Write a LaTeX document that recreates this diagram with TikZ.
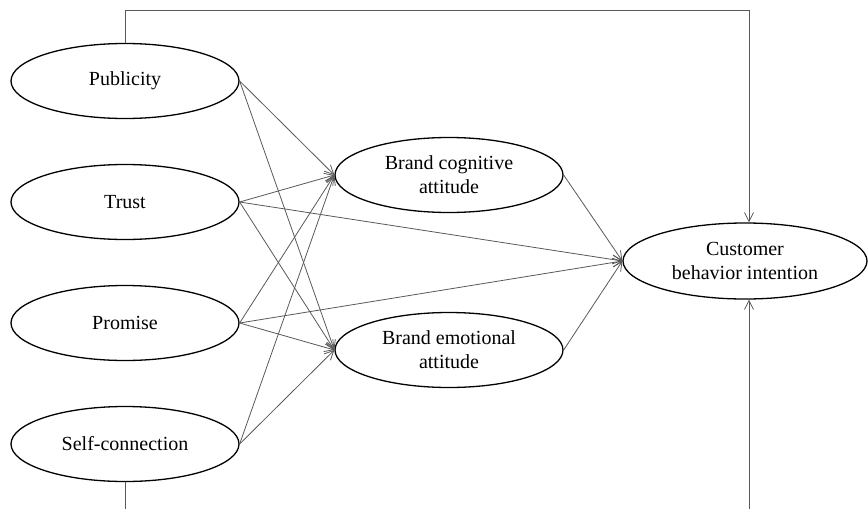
\documentclass[tikz,border=0pt]{standalone}
\usepackage{fontspec}
\setmainfont{Liberation Serif}
\usetikzlibrary{shapes.geometric,arrows.meta}
\begin{document}
\begin{tikzpicture}[x=1pt,y=-1pt,
  latent/.style={draw=black,line width=1.3pt,ellipse,inner sep=0pt,
    minimum width=228pt,minimum height=75pt,align=center,
    font=\fontsize{20}{24}\selectfont},
  arr/.style={draw=black!65,line width=0.8pt,
    -{Straight Barb[length=9pt,width=9pt,line width=0.8pt]}},
  plain/.style={draw=black!65,line width=0.8pt}]
\useasboundingbox (0,0) rectangle (868,509);
\node[latent] (pub) at (125,81) {Publicity};
\node[latent] (tru) at (125,202) {Trust};
\node[latent] (pro) at (125,323) {Promise};
\node[latent] (sel) at (125,444) {Self-connection};
\node[latent] (cog) at (449,175) {Brand cognitive\\attitude};
\node[latent] (emo) at (449,350) {Brand emotional\\attitude};
\node[latent,minimum width=244pt,minimum height=76pt] (cus) at (745,261) {Customer\\behavior intention};
\coordinate (tl) at (125,10);
\coordinate (tr) at (749,10);
\coordinate (bl) at (125,509);
\coordinate (br) at (749,509);
\foreach \s in {pub,tru,pro,sel}{
  \draw[arr] (\s.east) -- (cog.west);
  \draw[arr] (\s.east) -- (emo.west);
}
\draw[arr] (tru.east) -- (cus.west);
\draw[arr] (pro.east) -- (cus.west);
\draw[arr] (cog.east) -- (cus.west);
\draw[arr] (emo.east) -- (cus.west);
\draw[plain] (pub.north) -- (tl) -- (tr);
\draw[arr] (tr) -- (tr |- cus.north);
\draw[plain] (sel.south) -- (bl);
\draw[arr] (br) -- (br |- cus.south);
\end{tikzpicture}
\end{document}
